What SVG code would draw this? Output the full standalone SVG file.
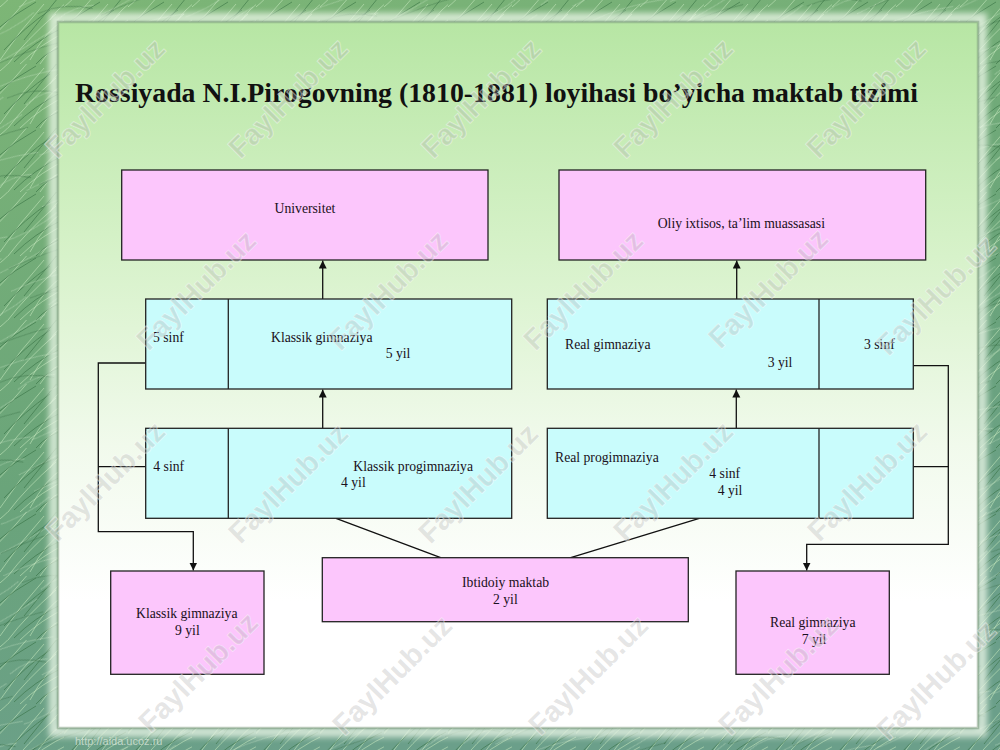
<svg xmlns="http://www.w3.org/2000/svg" width="1000" height="750" viewBox="0 0 1000 750">
<defs>
<linearGradient id="bg" x1="0" y1="0" x2="0.3" y2="1">
<stop offset="0" stop-color="#7db676"/>
<stop offset="0.6" stop-color="#6aa47a"/>
<stop offset="1" stop-color="#6b9f8a"/>
</linearGradient>
<pattern id="grass" width="64" height="64" patternUnits="userSpaceOnUse">
<path d="M0 60 Q20 30 44 4 M8 64 Q26 40 56 14 M-10 40 Q10 20 30 -4 M20 64 Q40 44 70 30 M30 60 Q46 30 64 20 M40 64 Q52 44 74 40 M50 20 Q56 10 70 0 M-6 12 Q4 4 14 -6" stroke="#c3e6bb" stroke-width="0.8" fill="none" opacity="0.75"/>
<path d="M4 50 Q24 28 50 10 M14 62 Q34 42 62 28 M-4 30 Q14 14 36 2 M36 64 Q48 50 66 46 M24 40 Q40 20 58 -2" stroke="#2f6a3c" stroke-width="0.9" fill="none" opacity="0.6"/>
</pattern>
<pattern id="grass2" width="90" height="90" patternUnits="userSpaceOnUse" patternTransform="rotate(20)">
<path d="M0 80 Q30 50 60 10 M20 90 Q50 60 88 40 M-10 50 Q20 30 40 -6 M60 90 Q70 70 96 60" stroke="#d6efd0" stroke-width="0.7" fill="none" opacity="0.55"/>
<path d="M10 70 Q40 40 70 20 M40 90 Q60 70 92 66" stroke="#285f35" stroke-width="0.8" fill="none" opacity="0.5"/>
</pattern>
<linearGradient id="panel" x1="0" y1="0" x2="0" y2="1">
<stop offset="0" stop-color="#b7e6a4"/>
<stop offset="0.3" stop-color="#d4f1c6"/>
<stop offset="0.6" stop-color="#f1faec"/>
<stop offset="0.82" stop-color="#ffffff"/>
<stop offset="1" stop-color="#ffffff"/>
</linearGradient>
<filter id="blur" x="-5%" y="-5%" width="110%" height="110%">
<feGaussianBlur stdDeviation="3"/>
</filter>
<marker id="arr" markerUnits="userSpaceOnUse" markerWidth="10" markerHeight="10" refX="8" refY="4" orient="auto">
<path d="M0 0 L8 4 L0 8 Z" fill="#111"/>
</marker>
<style>
.pink{fill:#fcc6fc;stroke:#222;stroke-width:1.3}
.cyan{fill:#c9fcfc;stroke:#222;stroke-width:1.3}
.div{stroke:#222;stroke-width:1.3}
.lbl{font-family:"Liberation Serif","Times New Roman",serif;font-size:13.7px;fill:#1a1020}
.con{fill:none;stroke:#111;stroke-width:1.3}
.wm{font-family:"Liberation Sans",Arial,sans-serif;font-weight:bold;font-size:29px;fill:#a8a8a8;fill-opacity:0.3;stroke:#ffffff;stroke-opacity:0.45;stroke-width:1.2;paint-order:stroke}
</style>
</defs>

<g id="background">
<rect x="0" y="0" width="1000" height="750" fill="url(#bg)"/>
<rect x="0" y="0" width="1000" height="750" fill="url(#grass)"/>
<rect x="0" y="0" width="1000" height="750" fill="url(#grass2)"/>
<rect x="54" y="18" width="928" height="714" fill="none" stroke="#eef8ea" stroke-width="10" opacity="0.8" filter="url(#blur)"/>
<rect x="58" y="22" width="920" height="706" fill="url(#panel)"/>
<rect x="58" y="22" width="920" height="706" fill="none" stroke="#7f9c80" stroke-opacity="0.55" stroke-width="2.5"/>
<text x="75" y="745" font-family="Liberation Sans, Arial, sans-serif" font-size="11" fill="#e6efe6" fill-opacity="0.7">http://aida.ucoz.ru</text>
</g>

<g id="title">
<text x="75" y="102" font-family="Liberation Serif, Times New Roman, serif" font-weight="bold" font-size="27.3" fill="#111" textLength="843" lengthAdjust="spacingAndGlyphs">Rossiyada N.I.Pirogovning (1810-1881) loyihasi bo’yicha maktab tizimi</text>
</g>

<g id="connectors">
<line class="con" x1="322.7" y1="299" x2="322.7" y2="260.5" marker-end="url(#arr)"/>
<line class="con" x1="322.7" y1="428.3" x2="322.7" y2="389.5" marker-end="url(#arr)"/>
<line class="con" x1="736.7" y1="299" x2="736.7" y2="260.5" marker-end="url(#arr)"/>
<line class="con" x1="736.3" y1="428.3" x2="736.3" y2="389.5" marker-end="url(#arr)"/>
<polyline class="con" points="145.7,363 98.3,363 98.3,531.7 193.3,531.7 193.3,570.5" marker-end="url(#arr)"/>
<line class="con" x1="145.7" y1="466.7" x2="98.3" y2="466.7"/>
<polyline class="con" points="913.3,365.7 948.3,365.7 948.3,544.3 806.7,544.3 806.7,570.5" marker-end="url(#arr)"/>
<line class="con" x1="913.3" y1="466.7" x2="948.3" y2="466.7"/>
<line class="con" x1="336" y1="518.3" x2="440.7" y2="557.7"/>
<line class="con" x1="699.3" y1="518.3" x2="570.7" y2="557.7"/>
</g>

<g id="universitet">
<rect class="pink" x="121.7" y="170" width="366.3" height="90"/>
<text class="lbl" x="274.5" y="213">Universitet</text>
</g>

<g id="oliy">
<rect class="pink" x="559" y="170" width="366.7" height="90"/>
<text class="lbl" x="657.7" y="228">Oliy ixtisos, ta’lim muassasasi</text>
</g>

<g id="klassik-gimnaziya-5">
<rect class="cyan" x="145.7" y="299" width="366" height="90"/>
<line class="div" x1="228.3" y1="299" x2="228.3" y2="389"/>
<text class="lbl" x="153" y="342">5 sinf</text>
<text class="lbl" x="271" y="342">Klassik gimnaziya</text>
<text class="lbl" x="385.7" y="358">5 yil</text>
</g>

<g id="real-gimnaziya-3">
<rect class="cyan" x="547.3" y="299" width="366" height="90"/>
<line class="div" x1="819" y1="299" x2="819" y2="389"/>
<text class="lbl" x="565" y="349">Real gimnaziya</text>
<text class="lbl" x="767.7" y="366.7">3 yil</text>
<text class="lbl" x="864" y="349">3 sinf</text>
</g>

<g id="klassik-progimnaziya">
<rect class="cyan" x="145.7" y="428.3" width="366" height="90"/>
<line class="div" x1="228.3" y1="428.3" x2="228.3" y2="518.3"/>
<text class="lbl" x="153.3" y="470.7">4 sinf</text>
<text class="lbl" x="353.3" y="470.7">Klassik progimnaziya</text>
<text class="lbl" x="341" y="487.3">4 yil</text>
</g>

<g id="real-progimnaziya">
<rect class="cyan" x="547.3" y="428.3" width="366" height="90"/>
<line class="div" x1="819" y1="428.3" x2="819" y2="518.3"/>
<text class="lbl" x="555" y="461.7">Real progimnaziya</text>
<text class="lbl" x="709.3" y="478.3">4 sinf</text>
<text class="lbl" x="717.7" y="495">4 yil</text>
</g>

<g id="ibtidoiy">
<rect class="pink" x="322.3" y="557.7" width="366" height="64"/>
<text class="lbl" x="462" y="586.7">Ibtidoiy maktab</text>
<text class="lbl" x="493" y="604">2 yil</text>
</g>

<g id="klassik-gimnaziya-9">
<rect class="pink" x="110.7" y="571" width="153.3" height="103.3"/>
<text class="lbl" x="136" y="618.3">Klassik gimnaziya</text>
<text class="lbl" x="175" y="635">9 yil</text>
</g>

<g id="real-gimnaziya-7">
<rect class="pink" x="736" y="571" width="153.3" height="103.3"/>
<text class="lbl" x="770" y="626.7">Real gimnaziya</text>
<text class="lbl" x="801.7" y="644">7 yil</text>
</g>

<g id="watermarks" text-anchor="middle">
<text class="wm" transform="translate(105,98) rotate(-45)" dy="10">FaylHub.uz</text>
<text class="wm" transform="translate(288,98) rotate(-45)" dy="10">FaylHub.uz</text>
<text class="wm" transform="translate(481,98) rotate(-45)" dy="10">FaylHub.uz</text>
<text class="wm" transform="translate(673,98) rotate(-45)" dy="10">FaylHub.uz</text>
<text class="wm" transform="translate(866,98) rotate(-45)" dy="10">FaylHub.uz</text>
<text class="wm" transform="translate(196,290) rotate(-45)" dy="10">FaylHub.uz</text>
<text class="wm" transform="translate(388,290) rotate(-45)" dy="10">FaylHub.uz</text>
<text class="wm" transform="translate(583,290) rotate(-45)" dy="10">FaylHub.uz</text>
<text class="wm" transform="translate(768,288) rotate(-45)" dy="10">FaylHub.uz</text>
<text class="wm" transform="translate(936,295) rotate(-45)" dy="10">FaylHub.uz</text>
<text class="wm" transform="translate(105,481) rotate(-45)" dy="10">FaylHub.uz</text>
<text class="wm" transform="translate(288,483) rotate(-45)" dy="10">FaylHub.uz</text>
<text class="wm" transform="translate(478,483) rotate(-45)" dy="10">FaylHub.uz</text>
<text class="wm" transform="translate(673,481) rotate(-45)" dy="10">FaylHub.uz</text>
<text class="wm" transform="translate(867,481) rotate(-45)" dy="10">FaylHub.uz</text>
<text class="wm" transform="translate(198,672) rotate(-45)" dy="10">FaylHub.uz</text>
<text class="wm" transform="translate(392,675) rotate(-45)" dy="10">FaylHub.uz</text>
<text class="wm" transform="translate(588,675) rotate(-45)" dy="10">FaylHub.uz</text>
<text class="wm" transform="translate(778,675) rotate(-45)" dy="10">FaylHub.uz</text>
<text class="wm" transform="translate(936,680) rotate(-45)" dy="10">FaylHub.uz</text>
</g>
</svg>
